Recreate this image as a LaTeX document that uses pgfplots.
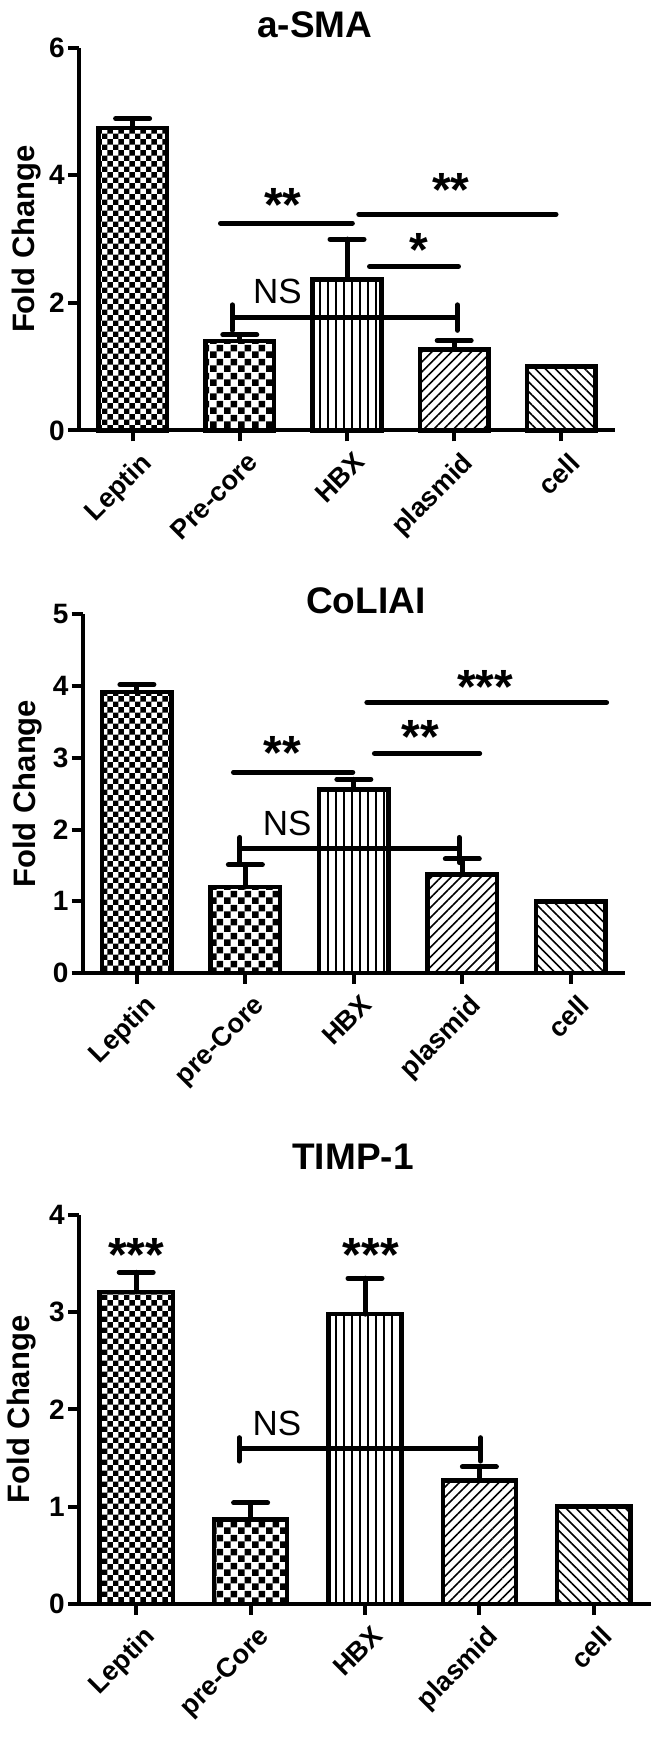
\documentclass[border=0pt]{standalone}
\usepackage{fontspec}
\setmainfont{Liberation Sans}
\usepackage{pgfplots}
\pgfplotsset{compat=1.18}
\usetikzlibrary{patterns,patterns.meta}

% coarse checkerboard for the second bar
\tikzdeclarepattern{
  name=bigchecker,
  type=uncolored,
  bounding box={(0pt,0pt) and (14pt,14pt)},
  tile size={(14pt,14pt)},
  code={
    \fill (0pt,0pt) rectangle (7pt,7pt);
    \fill (7pt,7pt) rectangle (14pt,14pt);
  }
}

\tikzset{
  stars/.style={font=\fontsize{48}{48}\selectfont\bfseries, anchor=base, yshift=-27pt, inner sep=0pt},
  ns/.style={font=\fontsize{35}{35}\selectfont, anchor=center, inner sep=0pt},
}

\pgfplotsset{
  panel/.style={
    scale only axis,
    anchor=south west,
    xmin=-0.5, xmax=4.5,
    axis x line=bottom, axis y line=left,
    axis line style={-, line width=4pt, black},
    tick align=outside,
    major tick length=11pt,
    tick style={line width=4pt, black},
    xtick={0,1,2,3,4},
    xticklabel style={rotate=45, anchor=north east, inner sep=2pt, yshift=-9pt,
      font=\fontsize{27}{27}\selectfont\bfseries},
    yticklabel style={font=\fontsize{28}{28}\selectfont\bfseries, inner sep=3pt},
    /pgf/number format/assume math mode=true,
    ylabel={Fold Change},
    ylabel style={font=\fontsize{31}{31}\selectfont\bfseries, anchor=center},
    title style={font=\fontsize{37}{37}\selectfont\bfseries, anchor=center},
    clip=false,
  },
  bar/.style={ybar, bar width=0.64, bar shift=0pt, draw=black, line width=4.5pt},
  err/.style={
    error bars/y dir=plus, error bars/y explicit,
    error bars/error bar style={line width=5pt, line cap=round},
    error bars/error mark options={rotate=90, mark size=17pt, line width=5pt, line cap=round}},
  sig/.style={black, line width=5pt, line cap=round, line join=round},
}

\begin{document}
\begin{tikzpicture}
\path[use as bounding box] (0pt,0pt) rectangle (661pt,1744pt);

% ---------- a-SMA ----------
\begin{axis}[panel, at={(79pt,1313.5pt)}, width=536pt, height=382.7pt,
  ymin=0, ymax=6, ytick={0,2,4,6},
  xticklabels={Leptin,Pre-core,HBX,plasmid,cell},
  title={a-SMA}, title style={at={(axis description cs:0.44,1)}, yshift=17.5pt},
  ylabel style={at={(axis description cs:-0.0976,0.5)}}]
\addplot[bar, err, pattern=checkerboard] coordinates {(0,4.74) +- (0,0.15)};
\addplot[bar, err, pattern=bigchecker] coordinates {(1,1.40) +- (0,0.10)};
\addplot[bar, err, pattern={Lines[angle=90,distance=8pt,line width=2pt]}] coordinates {(2,2.37) +- (0,0.63)};
\addplot[bar, err, pattern={Lines[angle=45,distance=7pt,line width=1.6pt]}] coordinates {(3,1.27) +- (0,0.14)};
\addplot[bar, pattern={Lines[angle=-45,distance=7pt,line width=1.6pt]}] coordinates {(4,1.0)};
\addplot[sig] coordinates {(0.82,3.25) (2.05,3.25)};
\addplot[sig] coordinates {(2.11,3.39) (3.95,3.39)};
\addplot[sig] coordinates {(2.21,2.57) (3.04,2.57)};
\addplot[sig] coordinates {(0.93,1.97) (0.93,1.57) (0.93,1.77) (3.03,1.77) (3.03,1.97) (3.03,1.57)};
\node[stars] at (axis cs:1.40,3.70) {**};
\node[stars] at (axis cs:2.97,3.94) {**};
\node[stars] at (axis cs:2.67,3.00) {*};
\node[ns] at (axis cs:1.35,2.18) {NS};
\end{axis}

% ---------- CoLIAI ----------
\begin{axis}[panel, at={(82.7pt,771pt)}, width=542.3pt, height=358.6pt,
  ymin=0, ymax=5, ytick={0,1,2,3,4,5},
  xticklabels={Leptin,pre-Core,HBX,plasmid,cell},
  title={CoLIAI}, title style={at={(axis description cs:0.522,1)}, yshift=7.5pt},
  ylabel style={at={(axis description cs:-0.101,0.5)}}]
\addplot[bar, err, pattern=checkerboard] coordinates {(0,3.92) +- (0,0.10)};
\addplot[bar, err, pattern=bigchecker] coordinates {(1,1.20) +- (0,0.31)};
\addplot[bar, err, pattern={Lines[angle=90,distance=8pt,line width=2pt]}] coordinates {(2,2.56) +- (0,0.14)};
\addplot[bar, err, pattern={Lines[angle=45,distance=7pt,line width=1.6pt]}] coordinates {(3,1.37) +- (0,0.22)};
\addplot[bar, pattern={Lines[angle=-45,distance=7pt,line width=1.6pt]}] coordinates {(4,1.0)};
\addplot[sig] coordinates {(0.89,2.80) (1.99,2.80)};
\addplot[sig] coordinates {(2.12,3.77) (4.33,3.77)};
\addplot[sig] coordinates {(2.19,3.06) (3.16,3.06)};
\addplot[sig] coordinates {(0.95,1.89) (0.95,1.54) (0.95,1.73) (2.97,1.73) (2.97,1.89) (2.97,1.54)};
\node[stars] at (axis cs:1.34,3.21) {**};
\node[stars] at (axis cs:3.21,4.13) {***};
\node[stars] at (axis cs:2.61,3.43) {**};
\node[ns] at (axis cs:1.385,2.09) {NS};
\end{axis}

% ---------- TIMP-1 ----------
\begin{axis}[panel, at={(79pt,140pt)}, width=572pt, height=389pt,
  ymin=0, ymax=4, ytick={0,1,2,3,4},
  xticklabels={Leptin,pre-Core,HBX,plasmid,cell},
  title={TIMP-1}, title style={at={(axis description cs:0.479,1)}, yshift=52pt},
  ylabel style={at={(axis description cs:-0.100,0.5)}}]
\addplot[bar, err, pattern=checkerboard] coordinates {(0,3.21) +- (0,0.20)};
\addplot[bar, err, pattern=bigchecker] coordinates {(1,0.87) +- (0,0.17)};
\addplot[bar, err, pattern={Lines[angle=90,distance=8pt,line width=2pt]}] coordinates {(2,2.98) +- (0,0.37)};
\addplot[bar, err, pattern={Lines[angle=45,distance=7pt,line width=1.6pt]}] coordinates {(3,1.27) +- (0,0.14)};
\addplot[bar, pattern={Lines[angle=-45,distance=7pt,line width=1.6pt]}] coordinates {(4,1.0)};
\addplot[sig] coordinates {(0.90,1.71) (0.90,1.47) (0.90,1.60) (3.01,1.60) (3.01,1.71) (3.01,1.47)};
\node[stars] at (axis cs:0,3.70) {***};
\node[stars] at (axis cs:2.05,3.70) {***};
\node[ns] at (axis cs:1.23,1.86) {NS};
\end{axis}
\end{tikzpicture}
\end{document}
